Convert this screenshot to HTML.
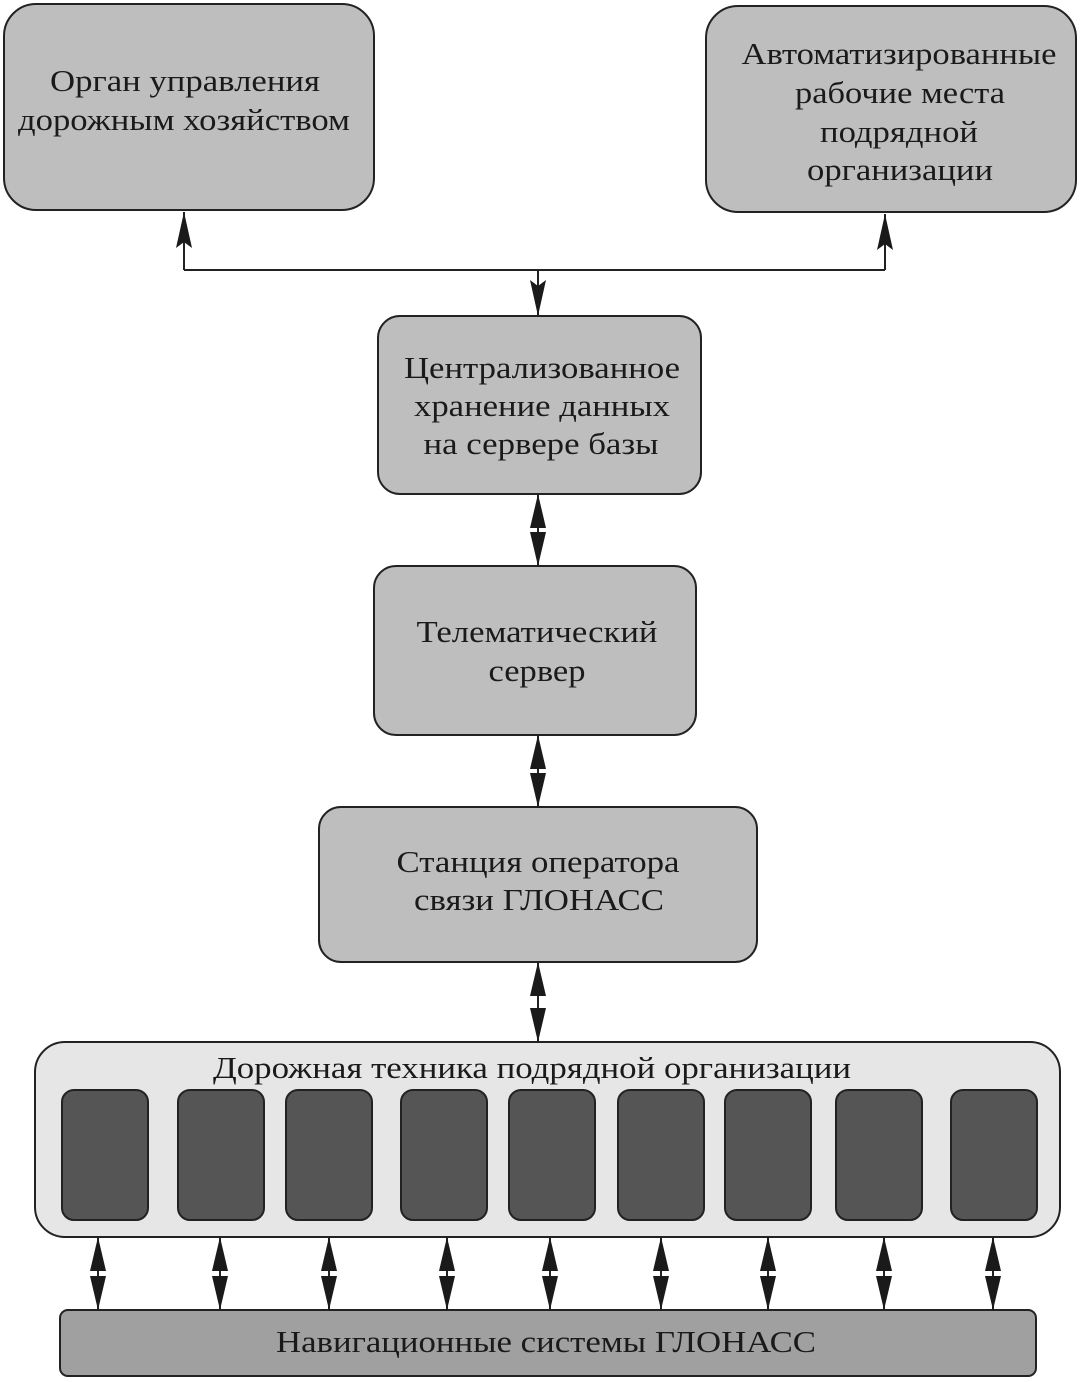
<!DOCTYPE html>
<html><head><meta charset="utf-8"><style>html,body{margin:0;padding:0;background:#fff}svg{display:block}</style></head><body>
<svg width="1080" height="1382" viewBox="0 0 1080 1382" xmlns="http://www.w3.org/2000/svg">
<defs>
<marker id="a" viewBox="0 0 36 16" refX="36" refY="8" markerWidth="36" markerHeight="16" markerUnits="userSpaceOnUse" orient="auto"><path d="M0,0 L36,8 L0,16 L6,8 Z" fill="#1a1a1a"/></marker>
<marker id="h" viewBox="0 0 34 16" refX="34" refY="8" markerWidth="34" markerHeight="16" markerUnits="userSpaceOnUse" orient="auto"><path d="M0,0 L34,8 L0,16 Z" fill="#1a1a1a"/></marker>
</defs>
<g stroke="#222" stroke-width="2">
<rect x="4" y="4" width="370" height="206" rx="32" fill="#bebebe"/>
<rect x="706" y="6" width="370" height="206" rx="32" fill="#bebebe"/>
<rect x="378" y="316" width="323" height="178" rx="22" fill="#bebebe"/>
<rect x="374" y="566" width="322" height="169" rx="22" fill="#bebebe"/>
<rect x="319" y="807" width="438" height="155" rx="22" fill="#bebebe"/>
<rect x="35" y="1042" width="1025" height="195" rx="30" fill="#e6e6e6"/>
<rect x="60" y="1310" width="976" height="66" rx="8" fill="#a0a0a0"/>
<g fill="#555555">
<rect x="62" y="1090" width="86" height="130" rx="12"/>
<rect x="178" y="1090" width="86" height="130" rx="12"/>
<rect x="286" y="1090" width="86" height="130" rx="12"/>
<rect x="401" y="1090" width="86" height="130" rx="12"/>
<rect x="509" y="1090" width="86" height="130" rx="12"/>
<rect x="618" y="1090" width="86" height="130" rx="12"/>
<rect x="725" y="1090" width="86" height="130" rx="12"/>
<rect x="836" y="1090" width="86" height="130" rx="12"/>
<rect x="951" y="1090" width="86" height="130" rx="12"/>
</g>
<path d="M184,270 L885,270" fill="none"/>
<path d="M184,270 L184,212" fill="none" marker-end="url(#a)"/>
<path d="M885,270 L885,214" fill="none" marker-end="url(#a)"/>
<path d="M538,270 L538,316" fill="none" marker-end="url(#a)"/>
<g fill="none" marker-end="url(#h)">
<path d="M538,530 L538,494"/><path d="M538,530 L538,566"/>
<path d="M538,771 L538,735"/><path d="M538,771 L538,807"/>
<path d="M538,1002 L538,962"/><path d="M538,1002 L538,1042"/>
<path d="M98,1273 L98,1237"/><path d="M98,1273 L98,1310"/>
<path d="M220,1273 L220,1237"/><path d="M220,1273 L220,1310"/>
<path d="M329,1273 L329,1237"/><path d="M329,1273 L329,1310"/>
<path d="M447,1273 L447,1237"/><path d="M447,1273 L447,1310"/>
<path d="M550,1273 L550,1237"/><path d="M550,1273 L550,1310"/>
<path d="M661,1273 L661,1237"/><path d="M661,1273 L661,1310"/>
<path d="M768,1273 L768,1237"/><path d="M768,1273 L768,1310"/>
<path d="M884,1273 L884,1237"/><path d="M884,1273 L884,1310"/>
<path d="M993,1273 L993,1237"/><path d="M993,1273 L993,1310"/>
</g>
</g>
<g font-family="'Liberation Serif', serif" font-size="31" fill="#1a1a1a" text-anchor="middle" lengthAdjust="spacingAndGlyphs">
<text x="185" y="91" textLength="270" lengthAdjust="spacingAndGlyphs">Орган управления</text>
<text x="184" y="130" textLength="332" lengthAdjust="spacingAndGlyphs">дорожным хозяйством</text>
<text x="899" y="64" textLength="315" lengthAdjust="spacingAndGlyphs">Автоматизированные</text>
<text x="900" y="103" textLength="210" lengthAdjust="spacingAndGlyphs">рабочие места</text>
<text x="899" y="142" textLength="158" lengthAdjust="spacingAndGlyphs">подрядной</text>
<text x="900" y="180" textLength="186" lengthAdjust="spacingAndGlyphs">организации</text>
<text x="542" y="378" textLength="276" lengthAdjust="spacingAndGlyphs">Централизованное</text>
<text x="542" y="416" textLength="256" lengthAdjust="spacingAndGlyphs">хранение данных</text>
<text x="541" y="454" textLength="235" lengthAdjust="spacingAndGlyphs">на сервере базы</text>
<text x="537" y="642" textLength="241" lengthAdjust="spacingAndGlyphs">Телематический</text>
<text x="537" y="681" textLength="97" lengthAdjust="spacingAndGlyphs">сервер</text>
<text x="538" y="872" textLength="283" lengthAdjust="spacingAndGlyphs">Станция оператора</text>
<text x="539" y="910" textLength="250" lengthAdjust="spacingAndGlyphs">связи ГЛОНАСС</text>
<text x="532" y="1078" textLength="638" lengthAdjust="spacingAndGlyphs">Дорожная техника подрядной организации</text>
<text x="546" y="1352" textLength="540" lengthAdjust="spacingAndGlyphs">Навигационные системы ГЛОНАСС</text>
</g>
</svg>
</body></html>
